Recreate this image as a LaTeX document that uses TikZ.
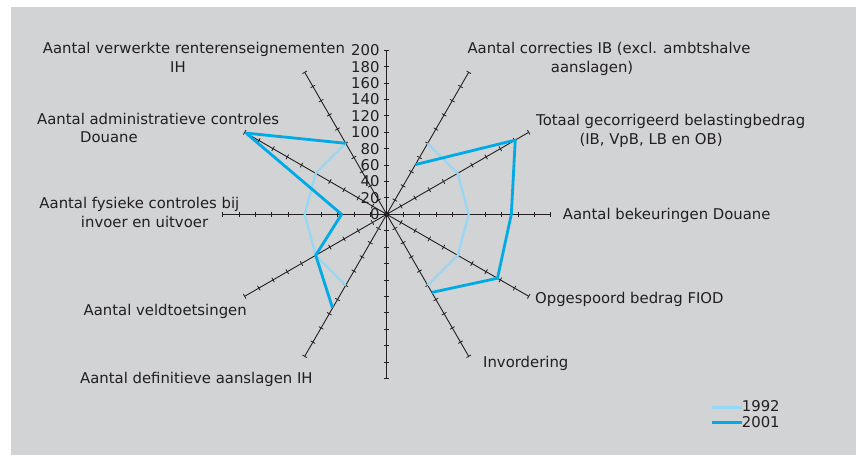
\documentclass[tikz,border=0pt]{standalone}
\usepackage{fontspec}
\setmainfont{DejaVu Sans}
\usetikzlibrary{positioning,calc}
\definecolor{chartGray}{RGB}{209,211,212}
\definecolor{inkDark}{RGB}{35,31,32}
\definecolor{lightBlue}{RGB}{150,215,245}
\definecolor{darkBlue}{RGB}{0,170,230}

\begin{document}
\begin{tikzpicture}[x=1pt,y=1pt,
        font=\fontsize{14.85}{18.5}\selectfont, text=inkDark,
        axis/.style={draw=inkDark, line width=0.9pt},
        tickmark/.style={draw=inkDark, line width=0.8pt},
        lbl/.style={inner sep=0pt, align=left, anchor=base west},
        num/.style={inner sep=0pt, anchor=east},
        y92/.style={draw=lightBlue, line width=2.2pt, line join=round},
        y01/.style={draw=darkBlue, line width=2.8pt, line join=round}]
        \useasboundingbox (-386.7,-240.7) rectangle (469.3,214.3);
        \fill[chartGray] (-375.7,-240.7) rectangle (469.3,207.3);
        % spokes with ticks every 20
        \coordinate (o) at (0,0);
        \foreach \a in {0,30,...,330} {
          \coordinate (s\a) at (\a:164);
          \draw[axis] (o) -- (s\a);
          \foreach \k in {0,...,10}
            \draw[tickmark, rotate=\a] (16.4*\k,-2.6) -- (16.4*\k,2.6);
        }
        \foreach \v in {0,20,...,200}
          \node[num] (n\v) at (-7,{0.82*\v}) {\v};
        % data points
        \foreach \a in {60,30,0,-30,-60,-120,-150,180,150,120}
          \coordinate (a\a) at (\a:82);
        \foreach \a/\v in {60/70,30/181,0/152,-30/156,-60/110,
                           -120/132,-150/100,180/55,150/198,120/100}
          \coordinate (b\a) at (\a:{0.82*\v});
        \draw[y92] (a60) -- (a30) -- (a0) -- (a-30) -- (a-60);
        \draw[y92] (a-120) -- (a-150) -- (a180) -- (a150) -- (a120);
        \draw[y01] (b60) -- (b30) -- (b0) -- (b-30) -- (b-60);
        \draw[y01] (b-120) -- (b-150) -- (b180) -- (b150) -- (b120);
        % category labels (two-line ones sit on their last baseline)
        \node[lbl] (renten) at (-344,141.8)
              {Aantal verwerkte renterenseignementen\\\hspace*{127.3pt}IH};
        \node[lbl] (correc) at (80.6,141.8)
              {Aantal correcties IB (excl. ambtshalve\\\hspace*{83.4pt}aanslagen)};
        \node[lbl] (totaal) at (149.3,69.8)
              {Totaal gecorrigeerd belastingbedrag\\\hspace*{43.3pt}(IB, VpB, LB en OB)};
        \node[lbl] (bekeur) at (176,-4.7) {Aantal bekeuringen Douane};
        \node[lbl] (fiod) at (148.3,-88.7) {Opgespoord bedrag FIOD};
        \node[lbl] (invord) at (96.3,-152.7) {Invordering};
        \node[lbl] (defin) at (-306.7,-168.7) {Aantal definitieve aanslagen IH};
        \node[lbl] (veld) at (-303.2,-101.2) {Aantal veldtoetsingen};
        \node[lbl] (fysiek) at (-347.4,-12.9)
              {Aantal fysieke controles bij\\\hspace*{41.5pt}invoer en uitvoer};
        \node[lbl] (admin) at (-349.7,71.4)
              {Aantal administratieve controles\\\hspace*{43pt}Douane};
        % legend
        \node[inner sep=0pt, anchor=west] (l92) at (355,-191.4) {1992};
        \node[inner sep=0pt, anchor=west] (l01) at (355,-207.4) {2001};
        \coordinate (k92) at (325.6,-193.4);
        \coordinate (k01) at (325.6,-208.4);
        \draw[y92, line width=2.6pt] (k92) -- (k92 -| l92.west);
        \draw[y01, line width=3.2pt] (k01) -- (k01 -| l01.west);
      \end{tikzpicture}
\end{document}
